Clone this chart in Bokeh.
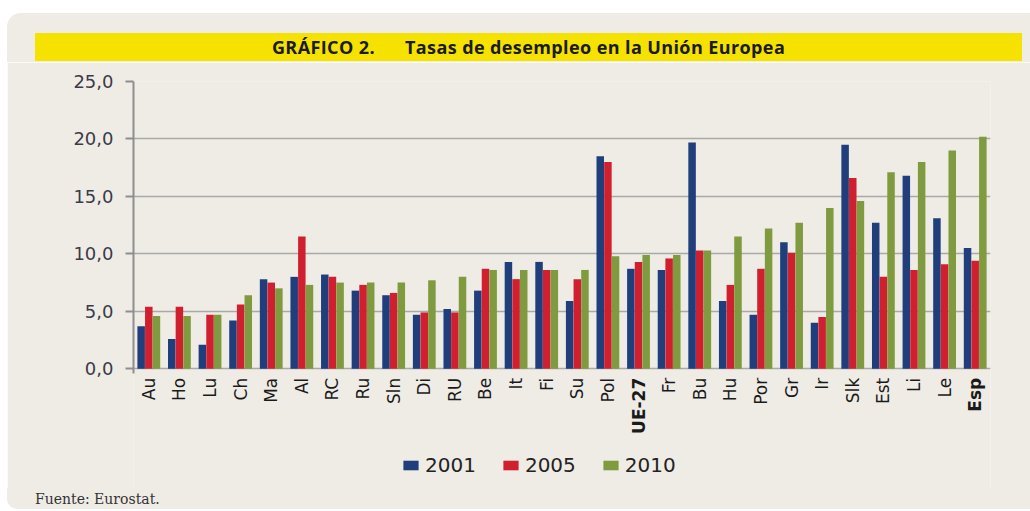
import math
from bokeh.plotting import figure
from bokeh.models import (ColumnDataSource, FactorRange, Range1d, FixedTicker,
                          Legend, LegendItem, Div)
from bokeh.core.properties import value, field
from bokeh.transform import dodge
from bokeh.layouts import column
from bokeh.embed import file_html
from bokeh.resources import INLINE

# ---------------- data ----------------
countries = ["Au", "Ho", "Lu", "Ch", "Ma", "Al", "RC", "Ru", "Sln", "Di", "RU",
             "Be", "It", "Fi", "Su", "Pol", "UE-27", "Fr", "Bu", "Hu", "Por",
             "Gr", "Ir", "Slk", "Est", "Li", "Le", "Esp"]
bold_labels = ["UE-27", "Esp"]
v2001 = [3.7, 2.6, 2.1, 4.2, 7.8, 8.0, 8.2, 6.8, 6.4, 4.7, 5.2,
         6.8, 9.3, 9.3, 5.9, 18.5, 8.7, 8.6, 19.7, 5.9, 4.7,
         11.0, 4.0, 19.5, 12.7, 16.8, 13.1, 10.5]
v2005 = [5.4, 5.4, 4.7, 5.6, 7.5, 11.5, 8.0, 7.3, 6.6, 4.9, 4.9,
         8.7, 7.8, 8.6, 7.8, 18.0, 9.3, 9.6, 10.3, 7.3, 8.7,
         10.1, 4.5, 16.6, 8.0, 8.6, 9.1, 9.4]
v2010 = [4.6, 4.6, 4.7, 6.4, 7.0, 7.3, 7.5, 7.5, 7.5, 7.7, 8.0,
         8.6, 8.6, 8.6, 8.6, 9.8, 9.9, 9.9, 10.3, 11.5, 12.2,
         12.7, 14.0, 14.6, 17.1, 18.0, 19.0, 20.2]
years = ["2001", "2005", "2010"]
y_ticks = [0, 5, 10, 15, 20, 25]
y_tick_labels = ["0,0", "5,0", "10,0", "15,0", "20,0", "25,0"]
title_num = "GRÁFICO 2."
title_text = "Tasas de desempleo en la Unión Europea"
source_text = "Fuente: Eurostat."

# ---------------- style ----------------
PANEL = "#EFECE6"
YELLOW = "#F5E200"
colors = ["#1F3E7B", "#D0202F", "#7F9A3F"]
offsets = [-0.25, 0.0, 0.25]

# ---------------- title band (HTML) ----------------
title_div = Div(width=1030, height=62, margin=(0, 0, 0, 0), text=(
    '<div style="position:relative;width:1030px;height:62px;background:#ffffff;">'
    f'<div style="position:absolute;left:7px;top:13px;width:1023px;height:49px;background:{PANEL};border-top-left-radius:14px;"></div>'
    f'<div style="position:absolute;left:35px;top:33px;width:987px;height:28px;background:{YELLOW};"></div>'
    '<div style="position:absolute;left:35px;top:33px;width:340px;height:28px;line-height:28px;'
    'text-align:right;font-family:\'Open Sans\';font-weight:bold;font-size:18px;'
    f'letter-spacing:0.4px;color:#1A1A1A;">{title_num}</div>'
    '<div style="position:absolute;left:405px;top:33px;width:600px;height:28px;line-height:28px;'
    'text-align:left;font-family:\'Open Sans\';font-weight:bold;font-size:18px;'
    f'letter-spacing:0.4px;color:#1A1A1A;">{title_text}</div>'
    '</div>'))

# ---------------- main chart ----------------
label_style = ["bold" if c in bold_labels else "normal" for c in countries]
src = ColumnDataSource(dict(country=countries, y2001=v2001, y2005=v2005, y2010=v2010,
                            style=label_style))

p = figure(x_range=FactorRange(factors=countries, range_padding=0),
           y_range=Range1d(-10.42, 25), width=1023, height=426,
           output_backend="svg", toolbar_location=None, x_axis_location=None,
           min_border_left=126, min_border_right=40,
           min_border_top=19, min_border_bottom=0)
p.margin = (0, 0, 0, 7)
p.background_fill_color = PANEL
p.border_fill_color = PANEL
p.outline_line_color = None

renderers = []
for yr, c, off in zip(years, colors, offsets):
    r = p.vbar(x=dodge("country", off, range=p.x_range), top="y" + yr,
               width=0.245, source=src, fill_color=c, line_color=None)
    renderers.append(r)

# category labels under the bars (bold for UE-27 and Esp)
p.text(x="country", y=0, text="country", source=src, angle=math.pi / 2,
       y_offset=9, text_align="right", text_baseline="middle",
       text_font=value("DejaVu Sans"), text_font_size=value("17px"),
       text_font_style=field("style"), text_color="#1A1A1A")

# y axis
p.yaxis.ticker = FixedTicker(ticks=y_ticks)
p.yaxis.bounds = (-0.4, 25)
p.yaxis.major_label_overrides = {t_: l_ for t_, l_ in zip(y_ticks, y_tick_labels)}
p.yaxis.axis_line_color = "#8E8E8E"
p.yaxis.axis_line_width = 2
p.yaxis.major_tick_line_color = "#8E8E8E"
p.yaxis.major_tick_line_width = 2
p.yaxis.major_tick_out = 8
p.yaxis.major_tick_in = 0
p.yaxis.minor_tick_line_color = None
p.yaxis.major_label_standoff = 12
p.yaxis.major_label_text_font = "DejaVu Sans"
p.yaxis.major_label_text_font_size = "18px"
p.yaxis.major_label_text_color = "#3B3B48"

p.ygrid.grid_line_color = "#A9A9A9"
p.ygrid.grid_line_width = 1.5
p.xgrid.grid_line_color = None

legend = Legend(items=[LegendItem(label=yr, renderers=[r]) for yr, r in zip(years, renderers)],
                orientation="horizontal", location=(268, 11),
                glyph_width=19, glyph_height=12, label_standoff=5, spacing=25,
                padding=0, margin=0, background_fill_alpha=0,
                border_line_color=None, label_text_font="DejaVu Sans",
                label_text_font_size="20px", label_text_color="#222222")
p.add_layout(legend, "center")

# ---------------- footer (HTML) ----------------
foot_div = Div(width=1030, height=23, margin=(0, 0, 0, 0), text=(
    '<div style="position:relative;width:1030px;height:23px;background:#ffffff;">'
    f'<div style="position:absolute;left:7px;top:0px;width:1023px;height:21px;background:{PANEL};border-bottom-left-radius:10px;"></div>'
    '<div style="position:absolute;left:35px;top:3px;font-family:\'DejaVu Serif\';font-size:14px;'
    f'line-height:16px;color:#333333;">{source_text}</div></div>'))

layout = column(title_div, p, foot_div, spacing=0)
open("out.html", "w").write(file_html(layout, INLINE))
